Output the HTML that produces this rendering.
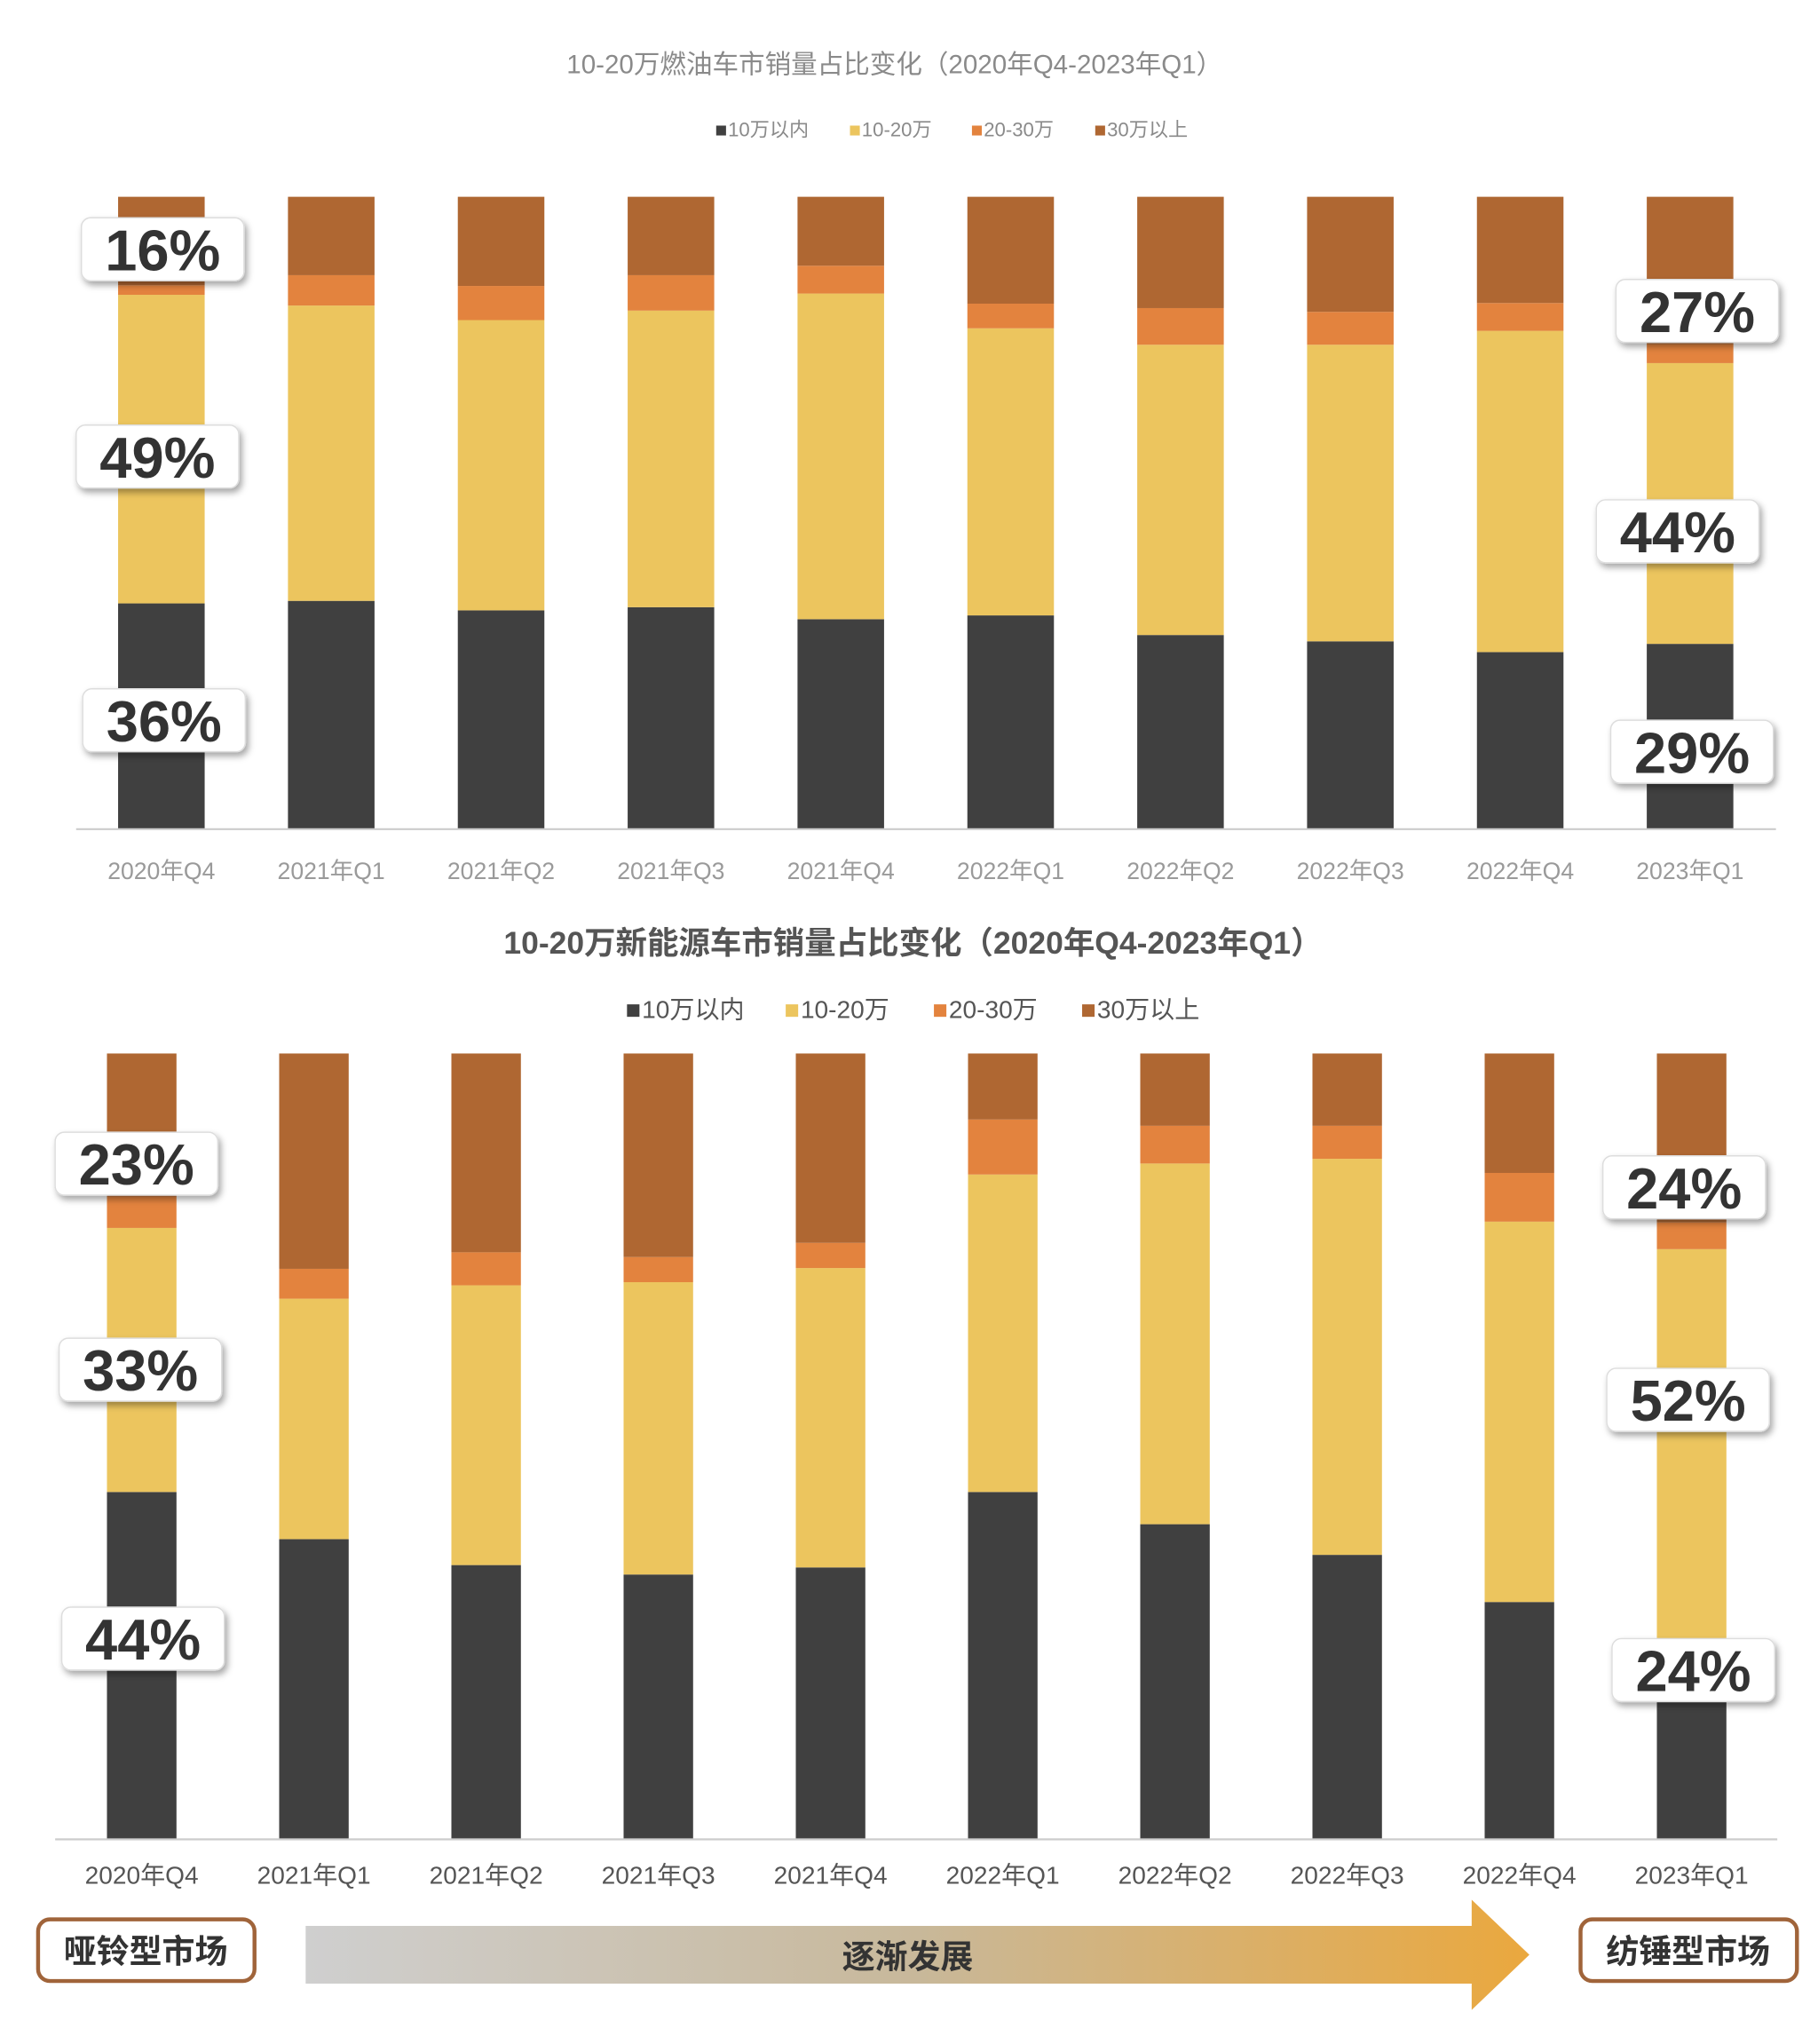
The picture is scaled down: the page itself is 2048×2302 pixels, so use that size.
<!DOCTYPE html>
<html><head><meta charset="utf-8"><style>
html,body{margin:0;padding:0;background:#fff}
svg{display:block}
text{font-family:"Liberation Sans","Noto Sans CJK SC",sans-serif}
</style></head><body>
<svg id="s" width="2048" height="2302" viewBox="0 0 1386 1558" xmlns="http://www.w3.org/2000/svg">
<defs>
<filter id="sh" x="-20%" y="-30%" width="150%" height="170%"><feDropShadow dx="2" dy="3" stdDeviation="2.5" flood-color="#000" flood-opacity="0.35"/></filter>
<linearGradient id="ag" x1="0" x2="1" y1="0" y2="0"><stop offset="0" stop-color="#cfcfcf"/><stop offset="0.5" stop-color="#c8b89a"/><stop offset="1" stop-color="#eaa83e"/></linearGradient>
</defs>
<text x="682" y="56" font-size="20" fill="#8a8a8a" text-anchor="middle">10-20万燃油车市销量占比变化（2020年Q4-2023年Q1）</text>
<text x="696" y="727" font-size="24" fill="#555" font-weight="bold" text-anchor="middle">10-20万新能源车市销量占比变化（2020年Q4-2023年Q1）</text>
<g id="top"></g>
<g id="bot"></g>
<g>
<rect x="29" y="1463" width="165" height="47" rx="9" fill="#fff" stroke="#a0643a" stroke-width="3"/>
<text x="111" y="1496" font-size="25" font-weight="bold" fill="#333" text-anchor="middle">哑铃型市场</text>
<path d="M233 1468 L1122 1468 L1122 1448 L1166 1490 L1122 1532 L1122 1512 L233 1512 Z" fill="url(#ag)"/>
<text x="692" y="1500" font-size="25" font-weight="bold" fill="#333" text-anchor="middle">逐渐发展</text>
<rect x="1205" y="1463" width="165" height="47" rx="9" fill="#fff" stroke="#a0643a" stroke-width="3"/>
<text x="1287" y="1496" font-size="25" font-weight="bold" fill="#333" text-anchor="middle">纺锤型市场</text>
</g>
</svg>
<script>
const categories=["2020年Q4","2021年Q1","2021年Q2","2021年Q3","2021年Q4","2022年Q1","2022年Q2","2022年Q3","2022年Q4","2023年Q1"];
const seriesNames=["10万以内","10-20万","20-30万","30万以上"];
const colors=["#404040","#ECC55E","#E3833E","#AF6732"];
const topUnder10=[35.7,36.1,34.6,35.1,33.2,33.8,30.7,29.7,28.0,29.3];
const top10to20=[48.8,46.7,45.9,46.9,51.5,45.4,45.9,46.9,50.8,44.4];
const top20to30=[1.5,4.8,5.4,5.6,4.4,3.9,5.8,5.2,4.4,3.0];
const top30plus=[14.0,12.4,14.1,12.4,10.9,16.9,17.6,18.2,16.8,23.3];
const botUnder10=[44.2,38.2,34.9,33.7,34.6,44.2,40.1,36.2,30.2,24.0];
const bot10to20=[33.6,30.6,35.6,37.2,38.1,40.4,45.9,50.4,48.4,51.1];
const bot20to30=[4.0,3.8,4.2,3.2,3.2,7.0,4.8,4.2,6.2,3.4];
const bot30plus=[18.2,27.4,25.3,25.9,24.1,8.4,9.2,9.2,15.2,21.5];
const topLabels=["16%","49%","36%","27%","44%","29%"];
const botLabels=["23%","33%","44%","24%","52%","24%"];
const NS="http://www.w3.org/2000/svg";
function mk(p,t,a){const e=document.createElementNS(NS,t);for(const k in a)e.setAttribute(k,a[k]);p.appendChild(e);return e;}
function draw(g,cfg,series,labels){
  const yS=v=>cfg.base-v/100*(cfg.base-cfg.top);
  const xS=i=>cfg.x0+i*cfg.step;
  // legend
  let lx=cfg.legX;
  seriesNames.forEach((n,k)=>{
    const r=mk(g,"rect",{x:lx,y:cfg.legY-cfg.legFs*0.55,width:cfg.legFs*0.5,height:cfg.legFs*0.5,fill:colors[k]});
    
    
    const t=mk(g,"text",{x:lx+cfg.legFs*0.6,y:cfg.legY,"font-size":cfg.legFs,fill:cfg.legFill});
    t.textContent=n;
    
    
    lx+=cfg.legGap[k];
  });
  categories.forEach((c,i)=>{
    let cum=0;
    series.forEach((arr,k)=>{
      const y1=yS(cum),y2=yS(cum+arr[i]);cum+=arr[i];
      const r=mk(g,"rect",{x:xS(i)-cfg.bw/2,y:y2,width:cfg.bw,height:y1-y2,fill:colors[k]});
      
      
    });
    const t=mk(g,"text",{x:xS(i),y:cfg.tickY,"font-size":cfg.tickFs,fill:cfg.tickFill,"text-anchor":"middle"});
    t.textContent=c;
    
    
  });
  const ax=mk(g,"line",{x1:cfg.axL,x2:cfg.axR,y1:cfg.base,y2:cfg.base,stroke:"#ccc","stroke-width":1.5});
  
  
  cfg.boxes.forEach((b,j)=>{
    const bg=mk(g,"g",{});
    
    
    mk(bg,"rect",{x:b[0],y:b[1],width:124,height:48,rx:7,fill:"#fff",stroke:"#ddd","stroke-width":1,filter:"url(#sh)"});
    const t=mk(bg,"text",{x:b[0]+62,y:b[1]+40,"font-size":44,"font-weight":"bold",fill:"#333","text-anchor":"middle"});
    t.textContent=labels[j];
  });
}
draw(document.getElementById('top'),{top:150,base:632,x0:123,step:129.5,bw:66,tickY:670,tickFs:18,tickFill:"#9a9a9a",axL:58,axR:1354,
  legX:546,legY:104,legFs:15,legFill:"#8a8a8a",legGap:[102,93,94,90],
  boxes:[[62,166],[58,324],[63,525],[1232,213],[1217,381],[1228,549]]},[topUnder10,top10to20,top20to30,top30plus],topLabels);
draw(document.getElementById('bot'),{top:803,base:1402,x0:108,step:131.3,bw:53,tickY:1436,tickFs:19,tickFill:"#555",axL:42,axR:1355,
  legX:478,legY:776,legFs:19,legFill:"#555",legGap:[121,113,113,110],
  boxes:[[42,863],[45,1020],[47,1225],[1222,881],[1225,1043],[1229,1249]]},[botUnder10,bot10to20,bot20to30,bot30plus],botLabels);
</script>
</body></html>
